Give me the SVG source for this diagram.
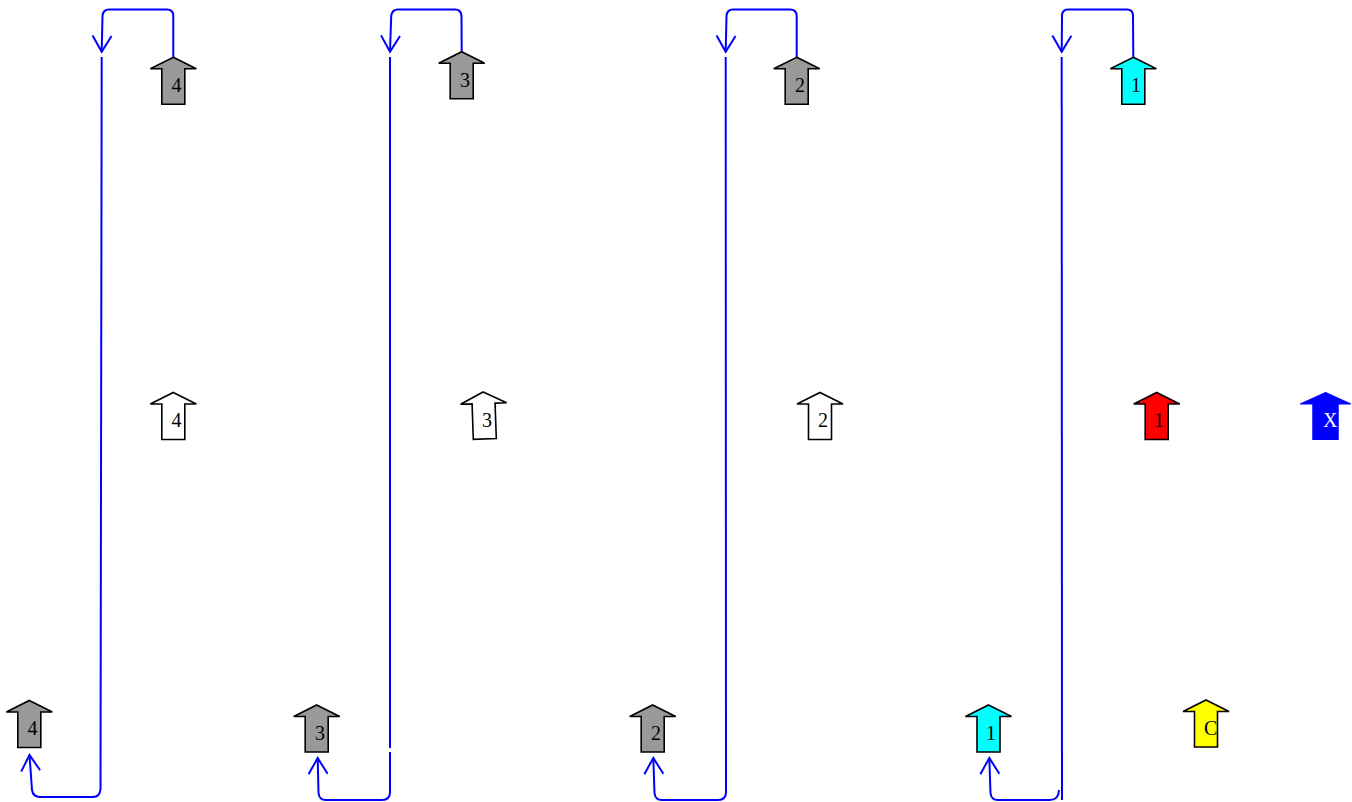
<svg xmlns="http://www.w3.org/2000/svg" xmlns:xlink="http://www.w3.org/1999/xlink" width="1352" height="802" viewBox="0 0 1352 802">
<style>
.a{stroke:#000;stroke-width:1.6;stroke-linejoin:miter}
.g{fill:#999}
.w{fill:#fff}
.c{fill:#0ff}
.r{fill:#f00}
.y{fill:#ff0}
.b{fill:#00f;stroke:#00f}
.t{font-family:"Liberation Serif","Times New Roman",serif;font-size:20px;fill:#000}
.tw{fill:#fff}
.e{fill:none;stroke:#00f;stroke-width:2}
</style>
<defs>
<path id="arr" d="M0,0 L23,11.5 L11.5,11.5 L11.5,47 L-11.5,47 L-11.5,11.5 L-23,11.5 Z"/>
<marker id="v" markerUnits="userSpaceOnUse" viewBox="-18 -12 20 24" refX="0" refY="0" markerWidth="20" markerHeight="24" orient="auto" overflow="visible">
<path d="M-16,-9.5 L0,0 L-16,9.5" fill="none" stroke="#00f" stroke-width="2"/>
</marker>
</defs>
<g id="connectors">
<path class="e" d="M173.3,57 L173.3,16 Q173.3,9.5 167,9.5 L109,9.5 Q103,9.5 102.5,16 L101.7,51.7" marker-end="url(#v)"/>
<path class="e" d="M101.7,57 L100.5,789 Q100,797 93,797 L40,797 Q33,797 32,790 L29.5,755" marker-end="url(#v)"/>
<path class="e" d="M461.7,52 L461.5,16 Q461,9.5 455,9.5 L398,9.5 Q392,9.5 391.2,16 L390,51.7" marker-end="url(#v)"/>
<path class="e" d="M390,57 L390,748 M390,752 L390,792 Q390,800 382,800 L326,800 Q319,800 318.5,793 L317.7,758" marker-end="url(#v)"/>
<path class="e" d="M796.7,57 L796.7,16 Q796.5,9.5 790,9.5 L733,9.5 Q727,9.5 726.5,16 L725.7,51.7" marker-end="url(#v)"/>
<path class="e" d="M725.7,57 L726,792 Q726,800 718,800 L662,800 Q655,800 654.5,793 L653.3,758" marker-end="url(#v)"/>
<path class="e" d="M1133.3,57 L1133,16 Q1133,9.5 1127,9.5 L1068,9.5 Q1062,9.5 1062,16 L1061.7,51.7" marker-end="url(#v)"/>
<path class="e" d="M1061.7,57 L1062,800"/>
<path class="e" d="M1059,790 Q1058.5,800 1050,800 L998,800 Q991,800 990.5,793 L989.3,758" marker-end="url(#v)"/>
</g>
<g id="n_top4"><use href="#arr" class="a g" transform="translate(173.3,57.3)"/><text class="t" x="171.5" y="92">4</text></g>
<g id="n_top3"><use href="#arr" class="a g" transform="translate(461.7,51.7)"/><text class="t" x="460" y="87">3</text></g>
<g id="n_top2"><use href="#arr" class="a g" transform="translate(796.7,57.3)"/><text class="t" x="795" y="92">2</text></g>
<g id="n_top1"><use href="#arr" class="a c" transform="translate(1133.3,57.3)"/><text class="t" x="1131" y="92">1</text></g>
<g id="n_mid4"><use href="#arr" class="a w" transform="translate(173.3,392.5)"/><text class="t" x="171.5" y="427">4</text></g>
<g id="n_mid3"><use href="#arr" class="a w" transform="translate(484,392) rotate(-2 0 24)"/><text class="t" x="482" y="427">3</text></g>
<g id="n_mid2"><use href="#arr" class="a w" transform="translate(820,392.5)"/><text class="t" x="818" y="427">2</text></g>
<g id="n_mid1"><use href="#arr" class="a r" transform="translate(1156.7,392.5)"/><text class="t" x="1154" y="427">1</text></g>
<g id="n_X"><use href="#arr" class="b" transform="translate(1325.5,392.5) scale(1.1,1)"/><text class="t tw" x="1323" y="427">X</text></g>
<g id="n_bot4"><use href="#arr" class="a g" transform="translate(29.3,700.5)"/><text class="t" x="27.5" y="735">4</text></g>
<g id="n_bot3"><use href="#arr" class="a g" transform="translate(316.7,705)"/><text class="t" x="315" y="740">3</text></g>
<g id="n_bot2"><use href="#arr" class="a g" transform="translate(652.7,705)"/><text class="t" x="651" y="740">2</text></g>
<g id="n_bot1"><use href="#arr" class="a c" transform="translate(988.5,705)"/><text class="t" x="986" y="740">1</text></g>
<g id="n_C"><use href="#arr" class="a y" transform="translate(1206,700)"/><text class="t" x="1204" y="735">C</text></g>
</svg>
